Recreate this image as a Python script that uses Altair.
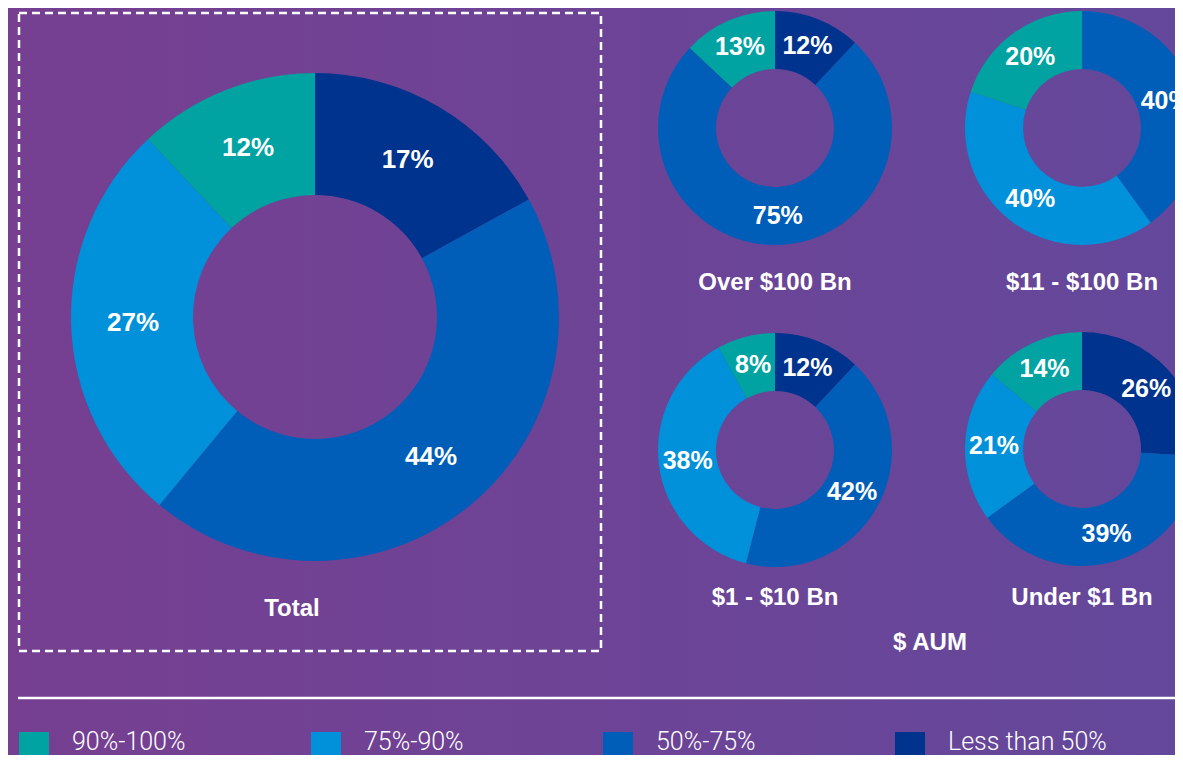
import altair as alt
import pandas as pd

# ---------------- data ----------------
groups = ["Total", "Over $100 Bn", "$11 - $100 Bn", "$1 - $10 Bn", "Under $1 Bn"]
# clockwise order from 12 o'clock
categories = ["Less than 50%", "50%-75%", "75%-90%", "90%-100%"]
less_than_50 = [17, 12, 0, 12, 26]
pct_50_75 = [44, 75, 40, 42, 39]
pct_75_90 = [27, 0, 40, 38, 21]
pct_90_100 = [12, 13, 20, 8, 14]
legend_order = ["90%-100%", "75%-90%", "50%-75%", "Less than 50%"]
colors = ["#00A3A1", "#0091DA", "#005EB8", "#00338D"]
axis_label = "$ AUM"

series = [less_than_50, pct_50_75, pct_75_90, pct_90_100]
rows = []
for gi, g in enumerate(groups):
    for ci, c in enumerate(categories):
        rows.append({"group": g, "cat": c, "idx": ci, "value": series[ci][gi],
                     "label": f"{series[ci][gi]}%"})
df = pd.DataFrame(rows)
legend_df = pd.DataFrame({"cat": legend_order})

# ---------------- layout (page px -> chart px) ----------------
OFF = 8
W, H = 1167, 747
def P(v):
    return v - OFF

layout = {
    "Total": dict(cx=315, cy=317, ro=244, ri=122, rl=182, fs=26, tx=292, ty=609),
    "Over $100 Bn": dict(cx=775, cy=128, ro=117, ri=59, rl=88, fs=25, tx=775, ty=283),
    "$11 - $100 Bn": dict(cx=1082, cy=128, ro=117, ri=59, rl=88, fs=25, tx=1082, ty=283),
    "$1 - $10 Bn": dict(cx=775, cy=450, ro=117, ri=59, rl=88, fs=25, tx=775, ty=598),
    "Under $1 Bn": dict(cx=1082, cy=449, ro=117, ri=59, rl=88, fs=25, tx=1082, ty=598),
}

FONT = "Liberation Sans"
LEG_FONT = "Roboto"
color_scale = alt.Scale(domain=legend_order, range=colors)
theta_enc = alt.Theta("value:Q", stack=True, scale=alt.Scale(domain=[0, 100]))
order_enc = alt.Order("idx:Q", sort="ascending")

layers = []

# background gradient
one = pd.DataFrame({"a": [0]})
layers.append(
    alt.Chart(one).mark_rect(
        color=alt.LinearGradient(
            gradient="linear",
            stops=[alt.GradientStop(offset=0, color="#763F91"),
                   alt.GradientStop(offset=1, color="#64489B")],
            x1=0, x2=1, y1=0, y2=0),
    ).encode(x=alt.value(0), x2=alt.value(W), y=alt.value(0), y2=alt.value(H))
)

# dashed box around Total
layers.append(
    alt.Chart(one).mark_rect(fillOpacity=0, stroke="white", strokeWidth=2.5,
                             strokeDash=[8, 5]).encode(
        x=alt.value(P(19)), x2=alt.value(P(601)), y=alt.value(P(13)), y2=alt.value(P(651)))
)

for g in groups:
    L = layout[g]
    base = alt.Chart(df).transform_filter(alt.datum.group == g)
    layers.append(
        base.mark_arc(outerRadius=L["ro"], innerRadius=L["ri"]).encode(
            theta=theta_enc, order=order_enc,
            color=alt.Color("cat:N", scale=color_scale, legend=None),
            x=alt.value(P(L["cx"])), y=alt.value(P(L["cy"])),
        )
    )
    layers.append(
        base.transform_filter(alt.datum.value > 0).mark_text(
            radius=L["rl"], font=FONT, fontWeight="bold", fontSize=L["fs"],
            color="white", align="center", baseline="middle").encode(
            theta=theta_enc, order=order_enc, text="label:N",
            x=alt.value(P(L["cx"])), y=alt.value(P(L["cy"])),
        )
    )
    layers.append(
        alt.Chart(pd.DataFrame({"t": [g]})).mark_text(
            font=FONT, fontWeight="bold", fontSize=24, color="white",
            align="center", baseline="middle").encode(
            text="t:N", x=alt.value(P(L["tx"])), y=alt.value(P(L["ty"])))
    )

# $ AUM
layers.append(
    alt.Chart(pd.DataFrame({"t": [axis_label]})).mark_text(
        font=FONT, fontWeight="bold", fontSize=24, color="white",
        align="center", baseline="middle").encode(
        text="t:N", x=alt.value(P(930)), y=alt.value(P(643)))
)

# separator line
layers.append(
    alt.Chart(one).mark_rule(color="white", strokeWidth=2.5).encode(
        x=alt.value(P(18)), x2=alt.value(W), y=alt.value(P(698)))
)

# legend
leg_x = alt.X("cat:N", axis=None,
              scale=alt.Scale(type="point", domain=legend_order,
                              range=[P(34), P(910)], padding=0))
layers.append(
    alt.Chart(legend_df).mark_square(size=900, opacity=1, filled=True).encode(
        x=leg_x, y=alt.value(P(747)),
        color=alt.Color("cat:N", scale=color_scale, legend=None))
)
layers.append(
    alt.Chart(legend_df).mark_text(
        font=LEG_FONT, fontWeight=300, fontSize=25, color="white",
        align="left", baseline="alphabetic", dx=38).encode(
        x=leg_x, y=alt.value(P(750)), text="cat:N")
)

chart = alt.layer(*layers).properties(
    width=W, height=H,
    autosize=alt.AutoSizeParams(type="none"),
    padding=0,
    background="#6E4396",
).configure_view(stroke=None)

chart.save("out.html", embed_options={"renderer": "svg", "actions": False})
